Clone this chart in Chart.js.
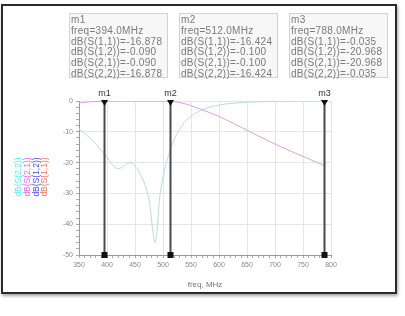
<!DOCTYPE html>
<html>
<head>
<meta charset="utf-8">
<script src="https://cdn.jsdelivr.net/npm/chart.js@4/dist/chart.umd.min.js"></script>
<style>
  html, body { margin:0; padding:0; background:#fff; }
  #wrap { position:relative; width:405px; height:316px; overflow:hidden; }
  #c { position:absolute; left:0; top:0; }
  #frame { position:absolute; left:1px; top:4px; width:392px; height:286px; border:2px solid #2a2a2a; box-shadow:1px 2px 3px rgba(0,0,0,0.35); pointer-events:none; }
  .mbox { position:absolute; top:13px; height:65px; border:1px solid #d2d2d2; background:#f7f7f7;
          font-family:"Liberation Sans", Arial, sans-serif; font-size:10px; line-height:10.8px; color:#7a7a7a; padding:1px 0 0 1px; box-sizing:border-box; white-space:pre; letter-spacing:0.3px; }
</style>
</head>
<body>
<div id="wrap">
  <canvas id="c" width="405" height="316"></canvas>
  <div id="frame"></div>
  <div id="boxes"></div>
</div>
<script>
// ---- data ----
const freqs = [350, 375, 394, 420, 440, 460, 475, 486, 495, 512, 530, 550, 575, 600, 650, 700, 750, 788];
const s11 = [-9, -13, -16.878, -22, -20, -24, -32, -46, -30, -16.424, -9, -5, -2.5, -1.3, -0.4, -0.15, -0.07, -0.035];
const s12 = [-0.6, -0.2, -0.09, -0.05, -0.04, -0.03, -0.02, -0.01, -0.03, -0.1, -0.5, -1.5, -3.2, -5, -9.5, -14, -18, -20.968];
const s21 = [-0.6, -0.2, -0.09, -0.05, -0.04, -0.03, -0.02, -0.01, -0.03, -0.1, -0.5, -1.5, -3.2, -5, -9.5, -14, -18, -20.968];
const s22 = [-9, -13, -16.878, -22, -20, -24, -32, -46, -30, -16.424, -9, -5, -2.5, -1.3, -0.4, -0.15, -0.07, -0.035];
const seriesNames = ["dB(S(1,1))", "dB(S(1,2))", "dB(S(2,1))", "dB(S(2,2))"];
const markerNames = ["m1", "m2", "m3"];
const markerFreqs = [394.0, 512.0, 788.0];
const markerS11 = ["-16.878", "-16.424", "-0.035"];
const markerS12 = ["-0.090", "-0.100", "-20.968"];
const markerS21 = ["-0.090", "-0.100", "-20.968"];
const markerS22 = ["-16.878", "-16.424", "-0.035"];
const xTickLabels = [350, 400, 450, 500, 550, 600, 650, 700, 750, 800];
const yTickLabels = [0, -10, -20, -30, -40, -50];

// ---- marker boxes ----
const boxLefts = [69, 179, 289];
const boxes = document.getElementById('boxes');
markerNames.forEach((m, i) => {
  const d = document.createElement('div');
  d.className = 'mbox';
  d.style.left = boxLefts[i] + 'px';
  d.style.width = '99px';
  d.textContent = m + "\nfreq=" + markerFreqs[i].toFixed(1) + "MHz\n" +
    "dB(S(1,1))=" + markerS11[i] + "\n" +
    "dB(S(1,2))=" + markerS12[i] + "\n" +
    "dB(S(2,1))=" + markerS21[i] + "\n" +
    "dB(S(2,2))=" + markerS22[i];
  boxes.appendChild(d);
});

const pts = arr => freqs.map((f, i) => ({ x: f, y: arr[i] }));

const markerPlugin = {
  id: 'markers',
  afterDatasetsDraw(chart) {
    const { ctx, chartArea: { top, bottom }, scales: { x } } = chart;
    ctx.save();
    markerFreqs.forEach((f, i) => {
      const px = Math.round(x.getPixelForValue(f)) + 0.5;
      ctx.strokeStyle = '#4a4a4a';
      ctx.lineWidth = 2;
      ctx.beginPath(); ctx.moveTo(px, top); ctx.lineTo(px, bottom); ctx.stroke();
      ctx.fillStyle = '#111';
      ctx.beginPath(); ctx.moveTo(px - 3.5, top - 1); ctx.lineTo(px + 3.5, top - 1); ctx.lineTo(px, top + 5); ctx.closePath(); ctx.fill();
      ctx.fillRect(px - 3, bottom - 3, 6, 6);
      ctx.font = '9px "Liberation Sans", Arial, sans-serif';
      ctx.fillStyle = '#333';
      ctx.textAlign = 'center';
      ctx.textBaseline = 'alphabetic';
      ctx.fillText(markerNames[i], px, top - 5);
    });
    ctx.restore();
  },
  afterDraw(chart) {
    const { ctx } = chart;
    const cols = ['#55eeee', '#f060f0', '#4a4aee', '#f07060'];
    const order = [3, 2, 1, 0];
    ctx.save();
    ctx.font = '8.5px "Liberation Sans", Arial, sans-serif';
    ctx.textAlign = 'center';
    ctx.textBaseline = 'middle';
    order.forEach((si, k) => {
      ctx.save();
      ctx.translate(19 + k * 8.7, 177);
      ctx.rotate(-Math.PI / 2);
      ctx.fillStyle = cols[k];
      ctx.fillText(seriesNames[si], 0, 0);
      ctx.restore();
    });
    ctx.restore();
  }
};

new Chart(document.getElementById('c'), {
  type: 'line',
  data: {
    datasets: [
      { label: seriesNames[0], data: pts(s11), borderColor: 'rgba(240,90,80,0.12)', borderWidth: 1, pointRadius: 0, cubicInterpolationMode: 'monotone' },
      { label: seriesNames[1], data: pts(s12), borderColor: 'rgba(80,80,240,0.12)', borderWidth: 1, pointRadius: 0, cubicInterpolationMode: 'monotone' },
      { label: seriesNames[2], data: pts(s21), borderColor: '#e8b4dc', borderWidth: 1, pointRadius: 0, cubicInterpolationMode: 'monotone' },
      { label: seriesNames[3], data: pts(s22), borderColor: '#b4eeee', borderWidth: 1, pointRadius: 0, cubicInterpolationMode: 'monotone' }
    ]
  },
  options: {
    responsive: false,
    animation: false,
    layout: { padding: { left: 39, top: 101, right: 74, bottom: 26 } },
    plugins: { legend: { display: false }, tooltip: { enabled: false } },
    scales: {
      x: {
        type: 'linear', min: 350, max: 800,
        afterFit: s => { s.height = 35; },
        ticks: {
          stepSize: 10, autoSkip: false, maxRotation: 0, padding: 3,
          color: '#888', font: { size: 7, family: '"Liberation Sans", Arial, sans-serif' },
          callback: v => xTickLabels.includes(v) ? String(v) : ''
        },
        grid: {
          color: c => (c.tick && xTickLabels.includes(c.tick.value)) ? '#e6e6e6' : 'transparent',
          tickColor: '#aaa', tickLength: 3, lineWidth: 1
        },
        border: { color: '#999', width: 1 },
        title: { display: true, text: 'freq, MHz', color: '#777', font: { size: 8, family: '"Liberation Sans", Arial, sans-serif' }, padding: { top: 0, bottom: 0 } }
      },
      y: {
        min: -50, max: 0,
        afterFit: s => { s.width = 40; },
        ticks: {
          stepSize: 2, autoSkip: false, padding: 3,
          color: '#888', font: { size: 7, family: '"Liberation Sans", Arial, sans-serif' },
          callback: v => yTickLabels.includes(v) ? String(v) : ''
        },
        grid: {
          color: c => (c.tick && yTickLabels.includes(c.tick.value)) ? '#e6e6e6' : 'transparent',
          tickColor: '#aaa', tickLength: 3, lineWidth: 1
        },
        border: { color: '#999', width: 1 }
      }
    }
  },
  plugins: [markerPlugin]
});
</script>
</body>
</html>
